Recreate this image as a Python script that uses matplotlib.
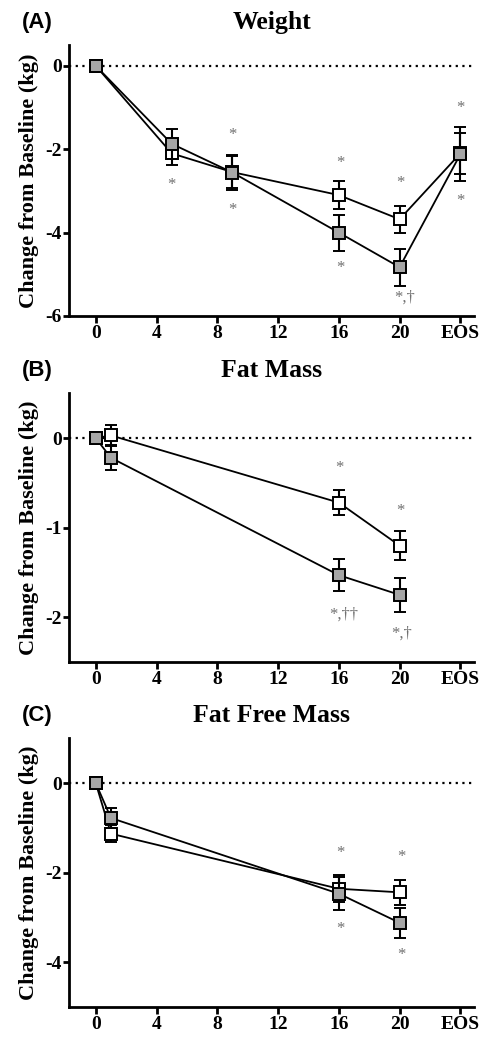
import numpy as np
import matplotlib.pyplot as plt

plt.rcParams['font.family'] = ['Liberation Serif', 'DejaVu Serif']

# x positions (weeks); EOS plotted at 24
xtick_vals = [0, 4, 8, 12, 16, 20, 24]
xtick_labels = ['0', '4', '8', '12', '16', '20', 'EOS']

# (A) Weight
w_x = [0, 5, 9, 16, 20, 24]
w_open = [0, -2.10, -2.55, -3.10, -3.68, -2.10]
w_open_err = [0, 0.28, 0.38, 0.34, 0.33, 0.50]
w_fill = [0, -1.87, -2.56, -4.00, -4.83, -2.12]
w_fill_err = [0, 0.36, 0.43, 0.43, 0.44, 0.65]
w_notes = [(5, -2.85, '*'), (9, -1.65, '*'), (9, -3.45, '*'),
           (16.1, -2.33, '*'), (16.1, -4.85, '*'), (20.05, -2.8, '*'),
           (20.3, -5.57, '*,†'), (24, -1.0, '*'), (24, -3.25, '*')]

# (B) Fat mass
f_x = [0, 1, 16, 20]
f_open = [0, 0.03, -0.72, -1.20]
f_open_err = [0, 0.12, 0.14, 0.16]
f_fill = [0, -0.22, -1.53, -1.75]
f_fill_err = [0, 0.14, 0.18, 0.19]
f_notes = [(16.05, -0.33, '*'), (20.05, -0.81, '*'),
           (16.3, -1.97, '*,††'), (20.1, -2.18, '*,†')]

# (C) Fat free mass
ffm_x = [0, 1, 16, 20]
ffm_open = [0, -1.13, -2.36, -2.44]
ffm_open_err = [0, 0.19, 0.30, 0.28]
ffm_fill = [0, -0.78, -2.47, -3.12]
ffm_fill_err = [0, 0.22, 0.37, 0.33]
ffm_notes = [(16.1, -1.56, '*'), (16.1, -3.25, '*'),
             (20.15, -1.65, '*'), (20.1, -3.84, '*')]

panels = [
    ('(A)', 'Weight', w_x, w_open, w_open_err, w_fill, w_fill_err, w_notes,
     (-6, 0.5), [0, -2, -4, -6]),
    ('(B)', 'Fat Mass', f_x, f_open, f_open_err, f_fill, f_fill_err, f_notes,
     (-2.5, 0.5), [0, -1, -2]),
    ('(C)', 'Fat Free Mass', ffm_x, ffm_open, ffm_open_err, ffm_fill,
     ffm_fill_err, ffm_notes, (-5, 1), [0, -2, -4]),
]

fig = plt.figure(figsize=(4.84, 10.37), dpi=100)
rects = [[0.1426, 0.6953, 0.8368, 0.2613],
         [0.1426, 0.3616, 0.8368, 0.2591],
         [0.1426, 0.0290, 0.8368, 0.2590]]

for rect, p in zip(rects, panels):
    tag, title, x, yo, eo, yf, ef, notes, ylim, yticks = p
    ax = fig.add_axes(rect)
    ax.axhline(0, color='black', ls=(0, (1, 2)), lw=1.6, zorder=1)
    ax.errorbar(x, yo, yerr=eo, color='black', lw=1.3, elinewidth=1.5,
                capsize=4.3, capthick=1.5, marker='s', ms=8,
                mfc='white', mec='black', mew=1.4, zorder=3)
    ax.errorbar(x, yf, yerr=ef, color='black', lw=1.3, elinewidth=1.5,
                capsize=4.3, capthick=1.5, marker='s', ms=8,
                mfc='#a6a6a6', mec='black', mew=1.4, zorder=4)
    for nx, ny, s in notes:
        ax.text(nx, ny, s, ha='center', va='center', color='#707070',
                fontsize=12)
    ax.set_xlim(-1.76, 24.9)
    ax.set_ylim(*ylim)
    ax.set_xticks(xtick_vals)
    ax.set_xticklabels(xtick_labels)
    ax.set_yticks(yticks)
    ax.set_yticklabels([str(t) for t in yticks])
    for side in ['top', 'right']:
        ax.spines[side].set_visible(False)
    for side in ['left', 'bottom']:
        ax.spines[side].set_linewidth(2)
    ax.tick_params(axis='x', width=2, length=5, labelsize=14, pad=1.5)
    ax.tick_params(axis='y', width=2, length=4, labelsize=14, pad=1)
    for lab in ax.get_xticklabels() + ax.get_yticklabels():
        lab.set_fontweight('bold')
    ax.set_ylabel('Change from Baseline (kg)', fontsize=16,
                  fontweight='bold', labelpad=5)
    top = rect[1] + rect[3]
    fig.text(rect[0] + rect[2] / 2, top + 0.022, title,
             ha='center', va='center', fontsize=18.5, fontweight='bold')
    fig.text(0.045, top + 0.022, tag, ha='left', va='center', fontsize=16,
             fontweight='bold', family=['Liberation Sans', 'DejaVu Sans'])

fig.savefig('out.png', dpi=100)
